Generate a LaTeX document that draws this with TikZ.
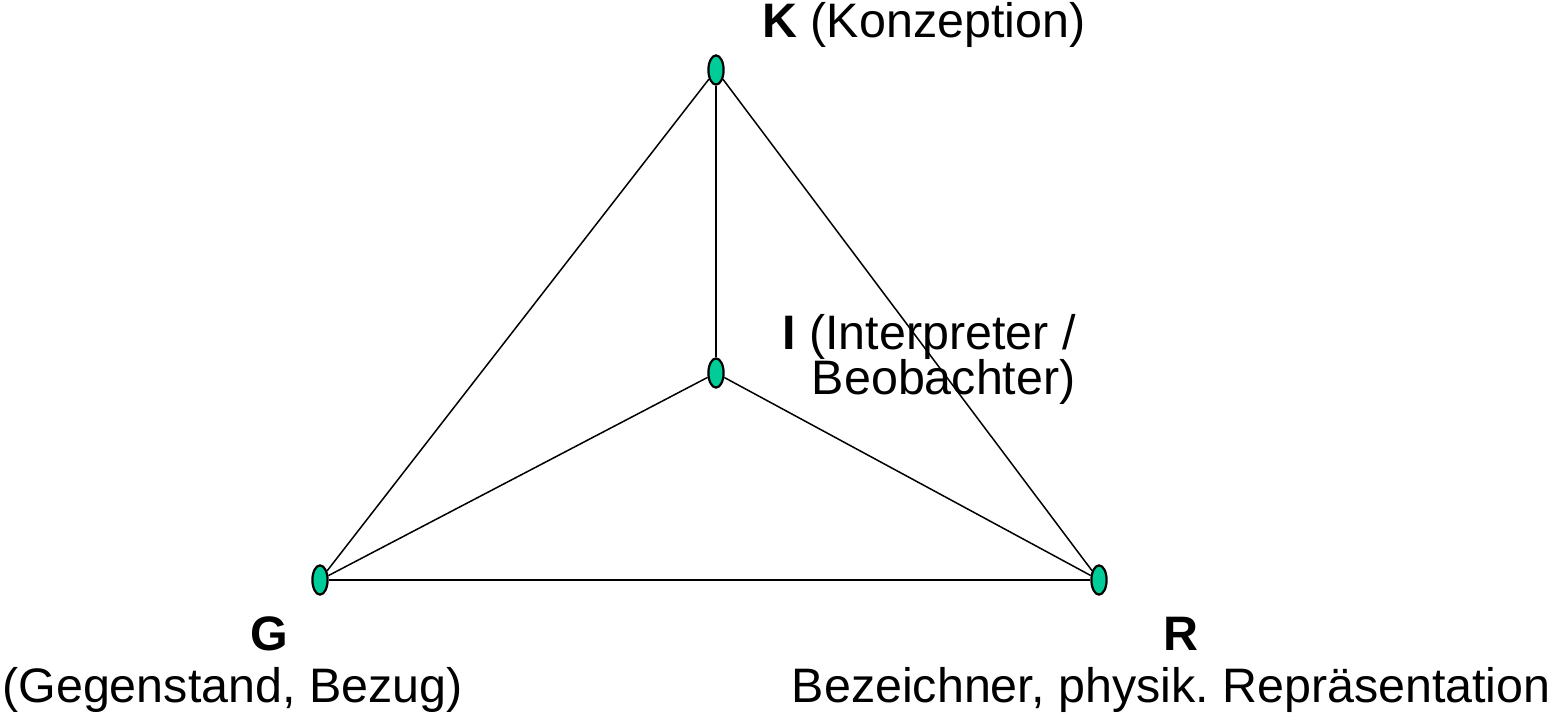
\documentclass[tikz,border=0pt]{standalone}
\usepackage{fontspec}
\setmainfont{Liberation Sans}
\usepackage{xcolor}
\usetikzlibrary{shapes.geometric}
\definecolor{knot}{RGB}{0,204,153}
\frenchspacing

\begin{document}
\begin{tikzpicture}[x=0.5pt, y=-0.5pt,
  font=\fontsize{24.2}{24.2}\selectfont,
  v/.style={ellipse, draw, line width=1.1pt, fill=knot, minimum width=7.6pt, minimum height=14.6pt, inner sep=0pt},
  e/.style={line width=0.75pt},
  lbl/.style={inner sep=0pt}]
 \useasboundingbox (0,0) rectangle (1551,721);
 % vertices
 \node[v] (K) at (716,70) {};
 \node[v] (I) at (716,373) {};
 \node[v] (G) at (320,580) {};
 \node[v] (R) at (1099,580) {};
 % edges
 \draw[e] (K)--(I); \draw[e] (K)--(G); \draw[e] (K)--(R);
 \draw[e] (I)--(G); \draw[e] (I)--(R); \draw[e] (G)--(R);
 % labels
 \node[lbl, anchor=base west] (kl) at (762,38) {\textbf{K} (Konzeption)};
 \node[lbl, anchor=base east] (il) at (1076,350) {\textbf{I} (Interpreter /};
 \node[lbl, anchor=base east] (il2) at (1076,394) {Beobachter)};
 \node[lbl, anchor=base] (gl) at (269,650) {\textbf{G}};
 \node[lbl, anchor=base west] (gt) at (2,702) {(Gegenstand, Bezug)};
 \node[lbl, anchor=base] (rl) at (1181,650) {\textbf{R}};
 \node[lbl, anchor=base east] (rt) at (1551,702) {Bezeichner, physik. Repräsentation};
\end{tikzpicture}
\end{document}
